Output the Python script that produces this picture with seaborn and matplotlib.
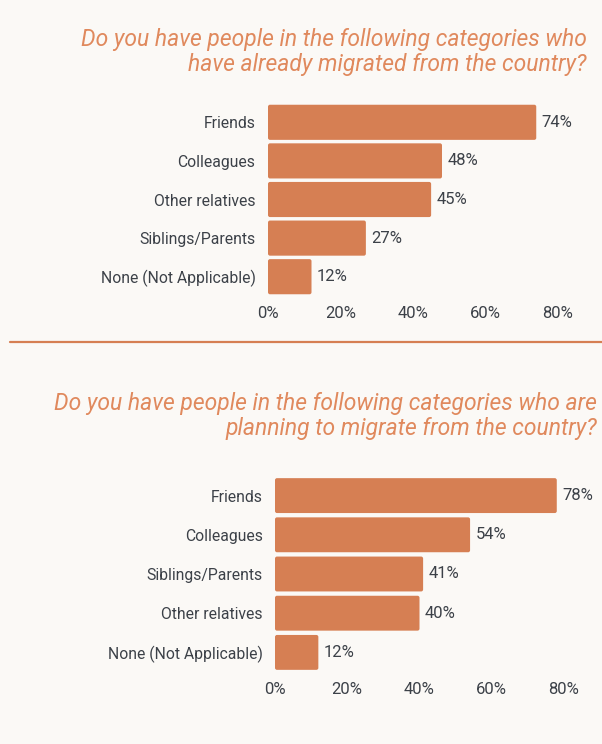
import matplotlib
matplotlib.use("Agg")
import matplotlib.pyplot as plt
import seaborn as sns
import pandas as pd
from matplotlib.lines import Line2D
from matplotlib.patches import FancyBboxPatch

# Survey results (percent of respondents)
migrated_categories = ["Friends", "Colleagues", "Other relatives", "Siblings/Parents", "None (Not Applicable)"]
migrated_values = [74, 48, 45, 27, 12]

planning_categories = ["Friends", "Colleagues", "Siblings/Parents", "Other relatives", "None (Not Applicable)"]
planning_values = [78, 54, 41, 40, 12]

tick_values = [0, 20, 40, 60, 80]
tick_labels = ["0%", "20%", "40%", "60%", "80%"]

title_migrated = "Do you have people in the following categories who\nhave already migrated from the country?"
title_planning = "Do you have people in the following categories who are\nplanning to migrate from the country?"

BG = "#FBF9F6"
BAR = "#D67F53"
TITLE = "#E0895D"
TEXT = "#3C4148"
FONT = "Roboto"

sns.set_theme(style="white")
plt.rcParams["font.family"] = [FONT, "DejaVu Sans"]

W, H = 602, 744
fig = plt.figure(figsize=(W / 100, H / 100), dpi=100, facecolor=BG)


def px_axes(left, right, top, bottom):
    return fig.add_axes([left / W, 1 - bottom / H, (right - left) / W, (bottom - top) / H])


def round_bars(ax, radius_px=2.0):
    # swap the plain rectangles for ones with slightly rounded corners
    ax.figure.canvas.draw()
    bbox = ax.get_window_extent()
    x0, x1 = ax.get_xlim()
    y0, y1 = ax.get_ylim()
    px_per_x = bbox.width / abs(x1 - x0)
    px_per_y = bbox.height / abs(y1 - y0)
    for p in list(ax.patches):
        x, y, w, h = p.get_x(), p.get_y(), p.get_width(), p.get_height()
        rounded = FancyBboxPatch((x, y), w, h,
                                 boxstyle=f"round,pad=0,rounding_size={radius_px / px_per_x}",
                                 mutation_aspect=px_per_x / px_per_y,
                                 facecolor=p.get_facecolor(), edgecolor="none", zorder=p.get_zorder())
        ax.add_patch(rounded)
        p.set_visible(False)


def draw_panel(ax, cats, vals, width):
    df = pd.DataFrame({"category": cats, "value": vals})
    sns.barplot(data=df, x="value", y="category", orient="h", color=BAR,
                saturation=1, width=width, ax=ax, order=cats)
    ax.set_facecolor(BG)
    ax.set_xlim(0, 80)
    ax.set_xticks(tick_values)
    ax.set_xticklabels(tick_labels)
    ax.set_xlabel("")
    ax.set_ylabel("")
    for s in ax.spines.values():
        s.set_visible(False)
    ax.tick_params(axis="x", length=0, pad=7, labelsize=12, labelcolor=TEXT)
    ax.tick_params(axis="y", length=0, pad=9, labelsize=11.3, labelcolor=TEXT)
    for c in ax.containers:
        ax.bar_label(c, labels=[f"{v}%" for v in vals], padding=4,
                     fontsize=12, color=TEXT)
    round_bars(ax)


ax1 = px_axes(268, 558, 103, 296)
draw_panel(ax1, migrated_categories, migrated_values, 0.91)

ax2 = px_axes(275, 564, 476, 672)
draw_panel(ax2, planning_categories, planning_values, 0.89)

title_kw = dict(ha="right", va="top", ma="right", fontsize=16.5, style="italic",
                fontweight="normal", color=TITLE, linespacing=1.13,
                family=[FONT, "DejaVu Sans"])
fig.text(587 / W, 1 - 28 / H, title_migrated, **title_kw)
fig.text(597 / W, 1 - 392 / H, title_planning, **title_kw)

# Divider between the two panels
fig.add_artist(Line2D([10 / W, 1.0], [1 - 342 / H, 1 - 342 / H],
                      transform=fig.transFigure, color=BAR, linewidth=1.6))

fig.savefig("out.png", dpi=100, facecolor=BG)
